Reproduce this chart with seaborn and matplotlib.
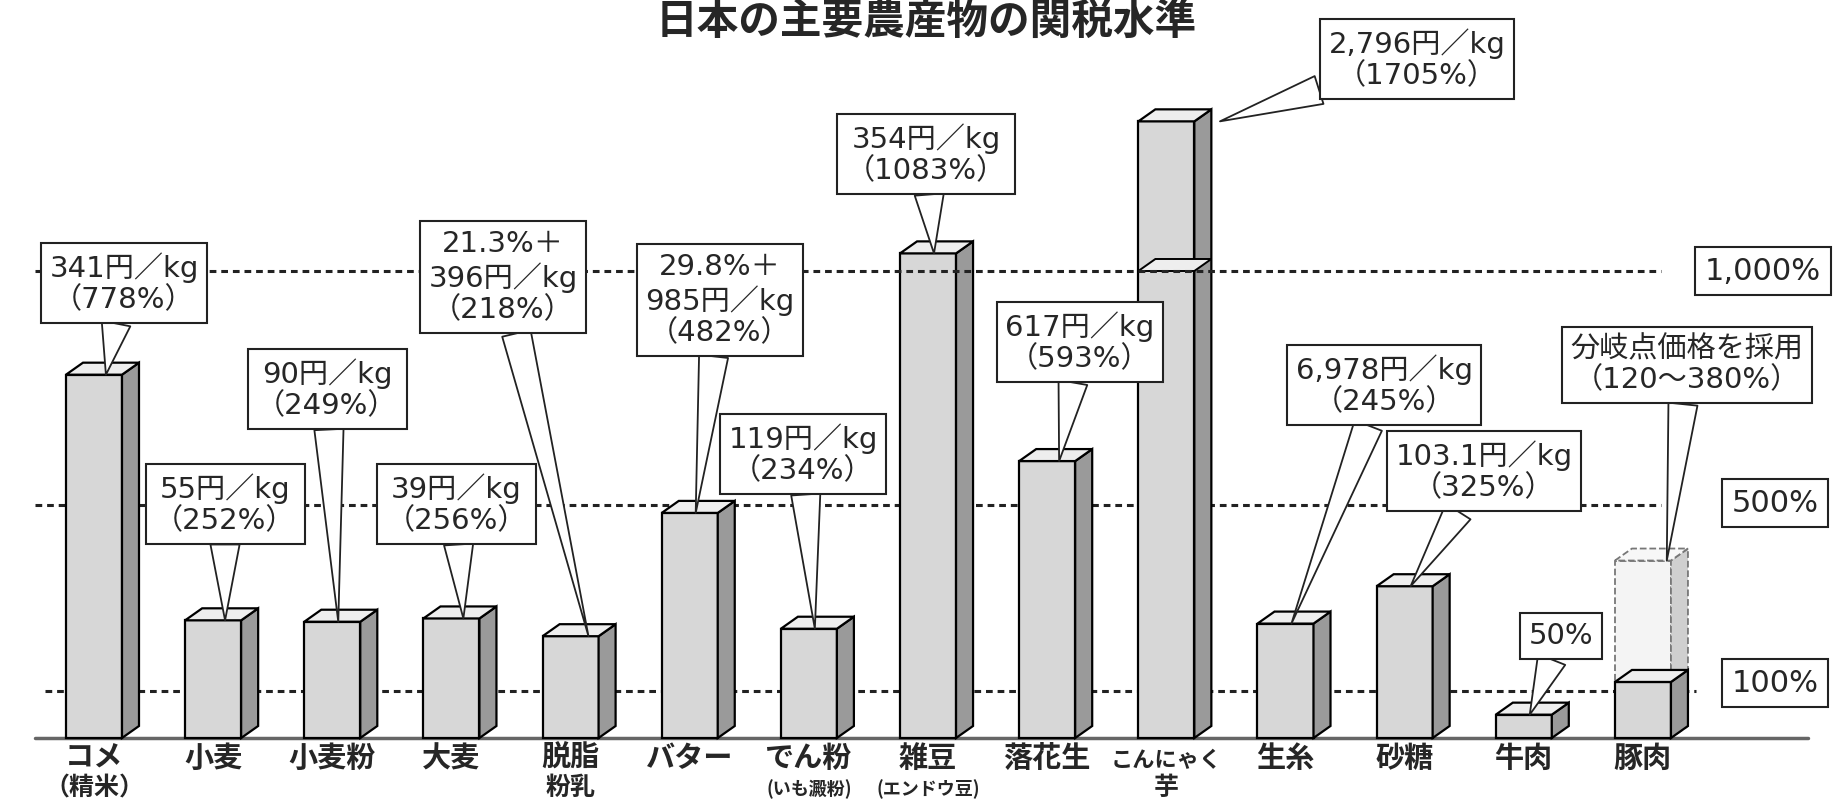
import numpy as np
import pandas as pd
import matplotlib
matplotlib.use('Agg')
import matplotlib.pyplot as plt
from matplotlib.patches import Polygon
from matplotlib.transforms import IdentityTransform
import seaborn as sns

# values (tariff rate, %)
items = ['コメ', '小麦', '小麦粉', '大麦', '脱脂粉乳', 'バター', 'でん粉', '雑豆',
         '落花生', 'こんにゃく芋', '生糸', '砂糖', '牛肉', '豚肉']
rates = [778, 252, 249, 256, 218, 482, 234, 1083, 593, 1705, 245, 325, 50, 120]
pork_range = [np.nan] * 13 + [380]      # 分岐点価格 upper end (120~380%)
broken = ['こんにゃく芋']                 # bar drawn with a scale break

tick_main = ['コメ', '小麦', '小麦粉', '大麦', '脱脂', 'バター', 'でん粉', '雑豆',
             '落花生', 'こんにゃく', '生糸', '砂糖', '牛肉', '豚肉']
tick_sub = ['（精米）', '', '', '', '粉乳', '', '(いも澱粉)', '(エンドウ豆)',
            '', '芋', '', '', '', '']

callouts = ['341円／kg\n（778%）', '55円／kg\n（252%）', '90円／kg\n（249%）',
            '39円／kg\n（256%）', '21.3%＋\n396円／kg\n（218%）',
            '29.8%＋\n985円／kg\n（482%）', '119円／kg\n（234%）',
            '354円／kg\n（1083%）', '617円／kg\n（593%）', '2,796円／kg\n（1705%）',
            '6,978円／kg\n（245%）', '103.1円／kg\n（325%）', '50%',
            '分岐点価格を採用\n（120～380%）']
ref_levels = [1000, 500, 100]
ref_labels = ['1,000%', '500%', '100%']
title = '日本の主要農産物の関税水準'

# ---- layout (pixels, measured from top-left of the 1847x800 picture)
W, H = 1847, 800
box_pos = [(124, 283), (225, 504), (327, 389), (456, 504), (503, 277), (720, 300),
           (803, 454), (926, 154), (1080, 342), (1417, 59), (1384, 385),
           (1484, 471), (1561, 636), (1687, 365)]
tip_dx = [0.1, 0.1, 0.05, 0.1, 0.15, 0.05, 0.05, 0.05, 0.1, 0.45, 0.05, 0.05, 0.05, 0.2]
ref_box = [(1763, 271), (1775, 503), (1775, 683)]
ref_span = [(35, 1661), (35, 1661), (45, 1696)]
DX, DY = 17, 12          # 3d depth of bars in px
K = 2.2                  # compression above 1000%
num_font = ['DejaVu Sans', 'Noto Sans CJK JP']

sns.set_style('white')
plt.rcParams['font.family'] = ['Noto Sans CJK JP', 'DejaVu Sans']

fig = plt.figure(figsize=(W / 100, H / 100), dpi=100)
ax = fig.add_axes([0, 0, 1, 1])

df = pd.DataFrame({'item': items, 'rate': rates, 'upper': pork_range})

sns.barplot(data=df, x='item', y='upper', order=items, color='#f4f4f4',
            saturation=1, width=0.47, edgecolor='#777777', linewidth=1.3,
            linestyle='--', errorbar=None, zorder=2, ax=ax)
n_ghost = len(ax.patches)
sns.barplot(data=df, x='item', y='rate', order=items, color='#d7d7d7',
            saturation=1, width=0.47, edgecolor='black', linewidth=1.6,
            errorbar=None, zorder=2, ax=ax)


def fwd(y):
    y = np.asarray(y, dtype=float)
    return np.where(y <= 1000, y, 1000 + (y - 1000) / K)


def inv(y):
    y = np.asarray(y, dtype=float)
    return np.where(y <= 1000, y, 1000 + (y - 1000) * K)


ax.set_yscale('function', functions=(fwd, inv))
x0px, step = 94, 119.15
ax.set_xlim(-x0px / step, (W - x0px) / step)
base_px, per = 62, 0.467
ax.set_ylim(-base_px / per, float(inv((H - base_px) / per)))
ax.axis('off')


def faces(p, front_kw, side_col, top_col):
    xa, ya = ax.transData.transform((p.get_x(), p.get_y()))
    xb, yb = ax.transData.transform((p.get_x() + p.get_width(), p.get_y() + p.get_height()))
    side = [(xb, ya), (xb, yb), (xb + DX, yb + DY), (xb + DX, ya + DY)]
    top = [(xa, yb), (xa + DX, yb + DY), (xb + DX, yb + DY), (xb, yb)]
    for pts, col in ((side, side_col), (top, top_col)):
        ax.add_patch(Polygon(pts, closed=True, facecolor=col, transform=IdentityTransform(),
                             clip_on=False, zorder=2.1, **front_kw))
    return xa, xb


ghosts = ax.patches[:n_ghost]
bars = ax.patches[n_ghost:]
for p in ghosts:
    faces(p, dict(edgecolor='#777777', linewidth=1.3, linestyle='--'), '#cfcfcf', '#f7f7f7')
for i, p in enumerate(bars):
    xa, xb = faces(p, dict(edgecolor='black', linewidth=1.6), '#9a9a9a', '#eeeeee')
    if items[i] in broken:
        ym = ax.transData.transform((0, 1000))[1]
        ledge = [(xa, ym), (xa + DX, ym + DY), (xb + DX, ym + DY), (xb, ym)]
        ax.add_patch(Polygon(ledge, closed=True, facecolor='#eeeeee', edgecolor='black',
                             linewidth=1.4, transform=IdentityTransform(), clip_on=False,
                             zorder=2.2))

# ground line and dotted reference lines
ax.axhline(0, xmin=35 / W, xmax=1808 / W, color='#666666', lw=2.5, zorder=1)
for lev, (a, b) in zip(ref_levels, ref_span):
    ax.axhline(lev, xmin=a / W, xmax=b / W, color='#222222', lw=2.2,
               linestyle=(0, (2.2, 1.6)), zorder=3 if lev == 1000 else 1)
for lab, (x, y) in zip(ref_labels, ref_box):
    fig.text(x / W, 1 - y / H, lab, ha='center', va='center', fontsize=22,
             family=num_font,
             bbox=dict(boxstyle='square,pad=0.32', fc='white', ec='#222222', lw=1.5),
             zorder=6)

# callout boxes
for i, (txt, (x, y)) in enumerate(zip(callouts, box_pos)):
    target = pork_range[i] if not np.isnan(pork_range[i]) else rates[i]
    ax.annotate(txt, xy=(i + tip_dx[i], target), xycoords='data',
                xytext=(x, H - y), textcoords='figure pixels',
                ha='center', va='center', fontsize=21, linespacing=1.15,
                multialignment='center', family=num_font,
                bbox=dict(boxstyle='square,pad=0.3', fc='white', ec='#222222', lw=1.5),
                arrowprops=dict(arrowstyle='wedge,tail_width=1.0,shrink_factor=0.5',
                                fc='white', ec='#222222', lw=1.3, shrinkA=0, shrinkB=0),
                zorder=6)

# category labels
xt = ax.get_xaxis_transform()
for i, (m, s) in enumerate(zip(tick_main, tick_sub)):
    ax.text(i, (H - 767) / H, m, transform=xt, ha='center', va='baseline',
            fontsize=21 if len(m) < 4 else 16, fontweight='bold')
    if s:
        small = s.startswith('(')
        ax.text(i, (H - 795) / H, s, transform=xt, ha='center',
                va='baseline', fontsize=13 if small else 18, fontweight='bold')

fig.text(926 / W, 1 - 1 / H, title, ha='center', va='top', fontsize=30,
         fontweight='bold')

fig.savefig('out.png', dpi=100, facecolor='white')
